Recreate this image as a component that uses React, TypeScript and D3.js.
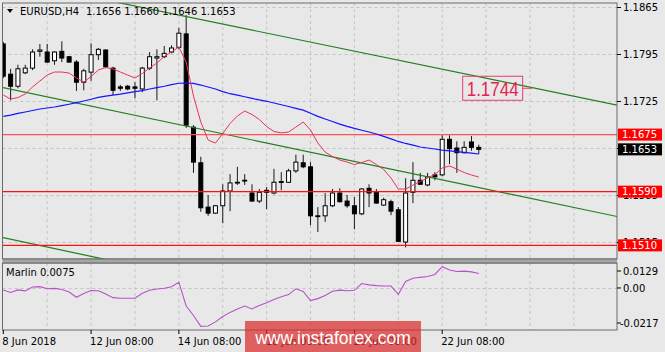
import React from "react";
import * as d3 from "d3";

const W = 665;
const H = 352;

// ---------- data ----------
const SYMBOL = "EURUSD,H4";
const TITLE_OHLC = "1.1656 1.1660 1.1646 1.1653";
const MARLIN_LABEL = "Marlin 0.0075";

const OPEN = [1.1810, 1.1765, 1.1747, 1.1767, 1.1774, 1.1799, 1.1798, 1.1785, 1.1799, 1.1791,
  1.1783, 1.1753, 1.1768, 1.1794, 1.1801, 1.1774, 1.1746, 1.1747, 1.1746, 1.1743,
  1.1774, 1.1789, 1.1791, 1.1798, 1.1805, 1.1825, 1.1686, 1.1633, 1.1567, 1.1558,
  1.1569, 1.1591, 1.1604, 1.1607, 1.1588, 1.1576, 1.1592, 1.1588, 1.1605, 1.1604,
  1.1621, 1.1633, 1.1627, 1.1554, 1.1554, 1.1569, 1.1588, 1.1576, 1.1569, 1.1557,
  1.1595, 1.1589, 1.1570, 1.1575, 1.1563, 1.1515, 1.1589, 1.1607, 1.1600, 1.1615,
  1.1615, 1.1668, 1.1655, 1.1648, 1.1664, 1.1656];
const HIGH = [1.1813, 1.1773, 1.1779, 1.1779, 1.1802, 1.1810, 1.1810, 1.1799, 1.1814, 1.1792,
  1.1786, 1.1773, 1.1811, 1.1804, 1.1802, 1.1776, 1.1749, 1.1749, 1.1753, 1.1776,
  1.1798, 1.1802, 1.1807, 1.1808, 1.1834, 1.1853, 1.1689, 1.1642, 1.1585, 1.1570,
  1.1601, 1.1616, 1.1627, 1.1616, 1.1601, 1.1594, 1.1597, 1.1624, 1.1619, 1.1624,
  1.1645, 1.1645, 1.1634, 1.1567, 1.1588, 1.1594, 1.1595, 1.1585, 1.1582, 1.1595,
  1.1601, 1.1594, 1.1581, 1.1578, 1.1567, 1.1610, 1.1634, 1.1618, 1.1618, 1.1619,
  1.1674, 1.1674, 1.1665, 1.1665, 1.1673, 1.1660];
const LOW = [1.1759, 1.1726, 1.1744, 1.1765, 1.1771, 1.1791, 1.1782, 1.1779, 1.1783, 1.1782,
  1.1740, 1.1741, 1.1755, 1.1786, 1.1774, 1.1734, 1.1740, 1.1741, 1.1729, 1.1738,
  1.1771, 1.1726, 1.1789, 1.1796, 1.1802, 1.1685, 1.1618, 1.1560, 1.1554, 1.1557,
  1.1543, 1.1561, 1.1600, 1.1600, 1.1575, 1.1573, 1.1564, 1.1586, 1.1592, 1.1603,
  1.1618, 1.1625, 1.1540, 1.1530, 1.1545, 1.1567, 1.1574, 1.1566, 1.1534, 1.1555,
  1.1567, 1.1572, 1.1569, 1.1555, 1.1515, 1.1507, 1.1573, 1.1600, 1.1598, 1.1607,
  1.1613, 1.1631, 1.1618, 1.1647, 1.1651, 1.1646];
const CLOSE = [1.1762, 1.1747, 1.1773, 1.1774, 1.1798, 1.1801, 1.1783, 1.1798, 1.1789, 1.1783,
  1.1753, 1.1770, 1.1794, 1.1802, 1.1776, 1.1741, 1.1744, 1.1743, 1.1744, 1.1774,
  1.1791, 1.1791, 1.1796, 1.1804, 1.1826, 1.1689, 1.1634, 1.1566, 1.1558, 1.1569,
  1.1591, 1.1603, 1.1603, 1.1606, 1.1576, 1.1589, 1.1589, 1.1604, 1.1604, 1.1621,
  1.1634, 1.1627, 1.1554, 1.1553, 1.1569, 1.1588, 1.1575, 1.1569, 1.1557, 1.1594,
  1.1588, 1.1573, 1.1578, 1.1561, 1.1516, 1.1588, 1.1607, 1.1601, 1.1612, 1.1612,
  1.1668, 1.1654, 1.1648, 1.1656, 1.1656, 1.1653];

const MA_FAST = [1.17339, 1.17280, 1.17302, 1.17354, 1.17459, 1.17548, 1.17637, 1.17682, 1.17682, 1.17667,
  1.17593, 1.17533, 1.17615, 1.17712, 1.17749, 1.17727, 1.17682, 1.17637, 1.17593, 1.17660,
  1.17741, 1.17816, 1.17913, 1.17980, 1.18054, 1.17831, 1.17324, 1.16937, 1.16669, 1.16624,
  1.16766, 1.16915, 1.17027, 1.17101, 1.17049, 1.16974, 1.16870, 1.16796, 1.16776, 1.16788,
  1.16863, 1.16937, 1.16818, 1.16624, 1.16490, 1.16423, 1.16371, 1.16341, 1.16304, 1.16334,
  1.16371, 1.16304, 1.16230, 1.16103, 1.15939, 1.15939, 1.15999, 1.16051, 1.16103, 1.16155,
  1.16252, 1.16282, 1.16237, 1.16185, 1.16148, 1.16118];

const MA_SLOW = [1.17022, 1.17041, 1.17065, 1.17086, 1.17109, 1.17131, 1.17146, 1.17161, 1.17181, 1.17202,
  1.17225, 1.17250, 1.17277, 1.17304, 1.17323, 1.17339, 1.17354, 1.17372, 1.17389, 1.17406,
  1.17429, 1.17450, 1.17470, 1.17493, 1.17515, 1.17518, 1.17514, 1.17488, 1.17459, 1.17429,
  1.17391, 1.17359, 1.17338, 1.17314, 1.17289, 1.17266, 1.17246, 1.17220, 1.17195, 1.17168,
  1.17141, 1.17114, 1.17068, 1.17022, 1.16982, 1.16945, 1.16906, 1.16873, 1.16843, 1.16815,
  1.16788, 1.16759, 1.16724, 1.16687, 1.16648, 1.16618, 1.16592, 1.16565, 1.16550, 1.16535,
  1.16520, 1.16508, 1.16496, 1.16484, 1.16473, 1.16461];

const MARLIN = [-0.0010, -0.0023, -0.0010, -0.0015, 0.0005, 0.0007, -0.0004, -0.0002, -0.0008, -0.0021,
  -0.0048, -0.0029, -0.0013, -0.0014, -0.0031, -0.0050, -0.0053, -0.0053, -0.0053, -0.0027,
  -0.0012, -0.0005, -0.0001, 0.0006, 0.0029, -0.0093, -0.0142, -0.0198, -0.0196, -0.0175,
  -0.0147, -0.0126, -0.0108, -0.0093, -0.0108, -0.0090, -0.0076, -0.0059, -0.0045, -0.0034,
  -0.0004, -0.0018, -0.0065, -0.0055, -0.0039, -0.0017, -0.0011, -0.0014, -0.0012, 0.0023,
  0.0016, 0.0012, 0.0010, 0.0010, -0.0033, 0.0034, 0.0050, 0.0055, 0.0059, 0.0070,
  0.0110, 0.0093, 0.0085, 0.0087, 0.0083, 0.0075];

const TIME_LABELS = ["8 Jun 2018", "12 Jun 08:00", "14 Jun 08:00", "18 Jun 08:00", "20 Jun 08:00", "22 Jun 08:00"];
const TIME_LABEL_BARS = [0, 12, 24, 36, 48, 60];
const PRICE_TICKS = [1.1865, 1.1795, 1.1725, 1.1655, 1.1585, 1.1515];
const MARLIN_TICKS = [0.0129, 0.0, -0.0217];
const MARLIN_TICK_TEXT = ["0.0129", "0.00", "-0.0217"];

const LEVELS = [1.1675, 1.1590, 1.1510];
const LEVEL_COLORS = ["#ff5252", "#ff1010", "#ff1010"];
const LAST_PRICE = 1.1653;
const TARGET_PRICE = 1.1744;

// trend lines: [barIndex, price] anchor pairs
const TREND_UPPER = [[20, 1.18620], [80, 1.17277]];
const TREND_MID = [[0, 1.17448], [80, 1.15619]];
const TREND_LOW = [[0, 1.15214], [13, 1.14913]];

// ---------- layout ----------
const MAIN = { left: 2.5, right: 617, top: 3, bottom: 259 };
const IND = { left: 2.5, right: 617, top: 263, bottom: 330 };
const FONT = "'DejaVu Sans', Verdana, sans-serif";

const xScale = d3.scaleLinear().domain([0, 84]).range([3.3, 3.3 + 84 * 7.315]);
const yScale = d3.scaleLinear().domain([1.14897, 1.18710]).range([MAIN.bottom, MAIN.top]);
const mScale = d3.scaleLinear().domain([-0.0217, 0.0129]).range([IND.bottom, IND.top]);

const fmt4 = (v: number) => v.toFixed(4);

function trendPath(pts: number[][]) {
  const [[i1, p1], [i2, p2]] = pts;
  const slope = (p2 - p1) / (i2 - i1);
  const a = -2, b = 86;
  return d3.line()([
    [xScale(a), yScale(p1 + slope * (a - i1))],
    [xScale(b), yScale(p1 + slope * (b - i1))],
  ]) as string;
}

export default function App() {
  const gridBars = d3.range(6, 84, 6);
  const fastLine = d3.line<number>().x((_, i) => xScale(i)).y((d) => yScale(d))(MA_FAST) as string;
  const slowLine = d3.line<number>().x((_, i) => xScale(i)).y((d) => yScale(d))(MA_SLOW) as string;
  const marlinLine = d3.line<number>().x((_, i) => xScale(i)).y((d) => mScale(d))(MARLIN) as string;

  const tgtY = yScale(TARGET_PRICE);
  const tgtX0 = xScale(62.8);
  const tgtX1 = xScale(71);
  const tgtX2 = xScale(72.3);

  return (
    <svg
      width={W}
      height={H}
      viewBox={`0 0 ${W} ${H}`}
      style={{ position: "fixed", left: 0, top: 0, display: "block" }}
      fontFamily={FONT}
    >
      <defs>
        <clipPath id="mainClip">
          <rect x={MAIN.left} y={MAIN.top} width={MAIN.right - MAIN.left} height={MAIN.bottom - MAIN.top} />
        </clipPath>
        <clipPath id="indClip">
          <rect x={IND.left} y={IND.top} width={IND.right - IND.left} height={IND.bottom - IND.top} />
        </clipPath>
      </defs>
      <rect x={0} y={0} width={W} height={H} fill="#e8e8e8" />

      {/* grids */}
      <g stroke="#c4c4c4" strokeWidth={1} strokeDasharray="3,3">
        {gridBars.map((b) => (
          <g key={b}>
            <line x1={xScale(b)} x2={xScale(b)} y1={MAIN.top} y2={MAIN.bottom} />
            <line x1={xScale(b)} x2={xScale(b)} y1={IND.top} y2={IND.bottom} />
          </g>
        ))}
        {PRICE_TICKS.map((p) => (
          <line key={p} x1={MAIN.left} x2={MAIN.right} y1={Math.round(yScale(p)) + 0.5} y2={Math.round(yScale(p)) + 0.5} />
        ))}
        <line x1={IND.left} x2={IND.right} y1={Math.round(mScale(0)) + 0.5} y2={Math.round(mScale(0)) + 0.5} />
      </g>

      {/* candles */}
      <g clipPath="url(#mainClip)">
        {OPEN.map((o, i) => {
          const x = xScale(i);
          const c = CLOSE[i];
          const up = c >= o;
          const yTop = yScale(Math.max(o, c));
          const yBot = yScale(Math.min(o, c));
          const bh = Math.max(0.8, yBot - yTop);
          return (
            <g key={i}>
              <line x1={x} x2={x} y1={yScale(HIGH[i])} y2={yScale(LOW[i])} stroke="#1a1a1a" strokeWidth={1} />
              <rect x={x - 2} y={yTop} width={4} height={bh} fill={up ? "#ffffff" : "#000000"} stroke="#000" strokeWidth={1} />
            </g>
          );
        })}
      </g>

      {/* objects & indicators on main */}
      <g clipPath="url(#mainClip)" fill="none">
        {[TREND_UPPER, TREND_MID, TREND_LOW].map((t, k) => (
          <path key={k} d={trendPath(t)} stroke="#1f7f1f" strokeWidth={1.2} />
        ))}
        {LEVELS.map((lv, k) => (
          <line key={lv} x1={MAIN.left} x2={MAIN.right} y1={yScale(lv)} y2={yScale(lv)} stroke={LEVEL_COLORS[k]} strokeWidth={1.2} />
        ))}
        <path d={slowLine} stroke="#1414ff" strokeWidth={1.2} />
        <path d={fastLine} stroke="#e8345a" strokeWidth={1} />
        <line x1={tgtX1} x2={tgtX2} y1={tgtY} y2={tgtY} stroke="#e8406a" strokeWidth={1} />
        <rect x={tgtX0} y={tgtY - 12} width={tgtX1 - tgtX0} height={24} fill="none" stroke="#e8406a" strokeWidth={1} />
      </g>
      <text
        x={(tgtX0 + tgtX1) / 2}
        y={tgtY}
        dy="0.36em"
        textAnchor="middle"
        fontFamily="'Liberation Sans', Arial, sans-serif"
        fontSize={21}
        textLength={52}
        lengthAdjust="spacingAndGlyphs"
        fill="#e82050"
      >
        {TARGET_PRICE.toFixed(4)}
      </text>

      {/* indicator */}
      <g clipPath="url(#indClip)">
        <path d={marlinLine} fill="none" stroke="#bb50cc" strokeWidth={1.1} />
      </g>
      <text x={6} y={272} dy="0.35em" fontSize={10} fill="#000">{MARLIN_LABEL}</text>

      {/* frames */}
      <g fill="none" stroke="#6a6a6a" strokeWidth={1}>
        <rect x={MAIN.left} y={MAIN.top} width={MAIN.right - MAIN.left} height={MAIN.bottom - MAIN.top} />
        <rect x={IND.left} y={IND.top} width={IND.right - IND.left} height={IND.bottom - IND.top} />
      </g>
      <rect x={MAIN.left} y={MAIN.bottom} width={MAIN.right - MAIN.left} height={IND.top - MAIN.bottom} fill="#a6a6a6" />
      <line x1={MAIN.left} x2={MAIN.right} y1={MAIN.bottom} y2={MAIN.bottom} stroke="#6a6a6a" />
      <line x1={IND.left} x2={IND.right} y1={IND.top} y2={IND.top} stroke="#6a6a6a" />

      {/* right price axis */}
      <g fontSize={10} fill="#000">
        {PRICE_TICKS.map((p) => {
          const y = Math.min(yScale(p), MAIN.bottom - 6);
          return (
            <g key={p}>
              <line x1={MAIN.right} x2={MAIN.right + 4} y1={Math.round(yScale(p)) + 0.5} y2={Math.round(yScale(p)) + 0.5} stroke="#000" />
              <text x={623} y={Math.max(y, MAIN.top + 4)} dy="0.36em">{fmt4(p)}</text>
            </g>
          );
        })}
        {MARLIN_TICKS.map((v, k) => {
          const y = Math.max(IND.top + 8, Math.min(IND.bottom - 7, mScale(v)));
          return (
            <g key={v}>
              <line x1={IND.right} x2={IND.right + 4} y1={y} y2={y} stroke="#000" />
              <text x={v < 0 ? 620 : 623} y={y} dy="0.36em">{MARLIN_TICK_TEXT[k]}</text>
            </g>
          );
        })}
      </g>

      {/* price labels */}
      {LEVELS.map((lv) => (
        <g key={lv}>
          <rect x={618} y={yScale(lv) - 6} width={44} height={12} fill="#ff0000" />
          <text x={622} y={yScale(lv)} dy="0.36em" fontSize={10} fill="#ffffff">{fmt4(lv)}</text>
        </g>
      ))}
      <rect x={618} y={yScale(LAST_PRICE) - 6} width={44} height={12} fill="#000000" />
      <text x={622} y={yScale(LAST_PRICE)} dy="0.36em" fontSize={10} fill="#ffffff">{fmt4(LAST_PRICE)}</text>

      {/* time axis */}
      <g fontSize={10} fill="#000">
        {TIME_LABEL_BARS.map((b, k) => (
          <g key={b}>
            <line x1={xScale(b)} x2={xScale(b)} y1={IND.bottom} y2={IND.bottom + 4} stroke="#000" />
            <text x={xScale(b) - 1} y={341} dy="0.36em">{TIME_LABELS[k]}</text>
          </g>
        ))}
      </g>

      {/* title */}
      <path d="M7,9 L13,9 L10,13 Z" fill="#000" />
      <text x={20} y={11} dy="0.36em" fontSize={10} fill="#000">{SYMBOL}</text>
      <text x={86} y={11} dy="0.36em" fontSize={10} fill="#000">{TITLE_OHLC}</text>

      {/* watermark */}
      <rect x={245} y={321} width={176} height={31} fill="#d92b2b" fillOpacity={0.72} />
      <text x={333} y={338} dy="0.36em" textAnchor="middle" fontFamily="'Liberation Sans', Arial, sans-serif" fontSize={17.5} fill="#ffffff">
        www.instaforex.com
      </text>
    </svg>
  );
}
